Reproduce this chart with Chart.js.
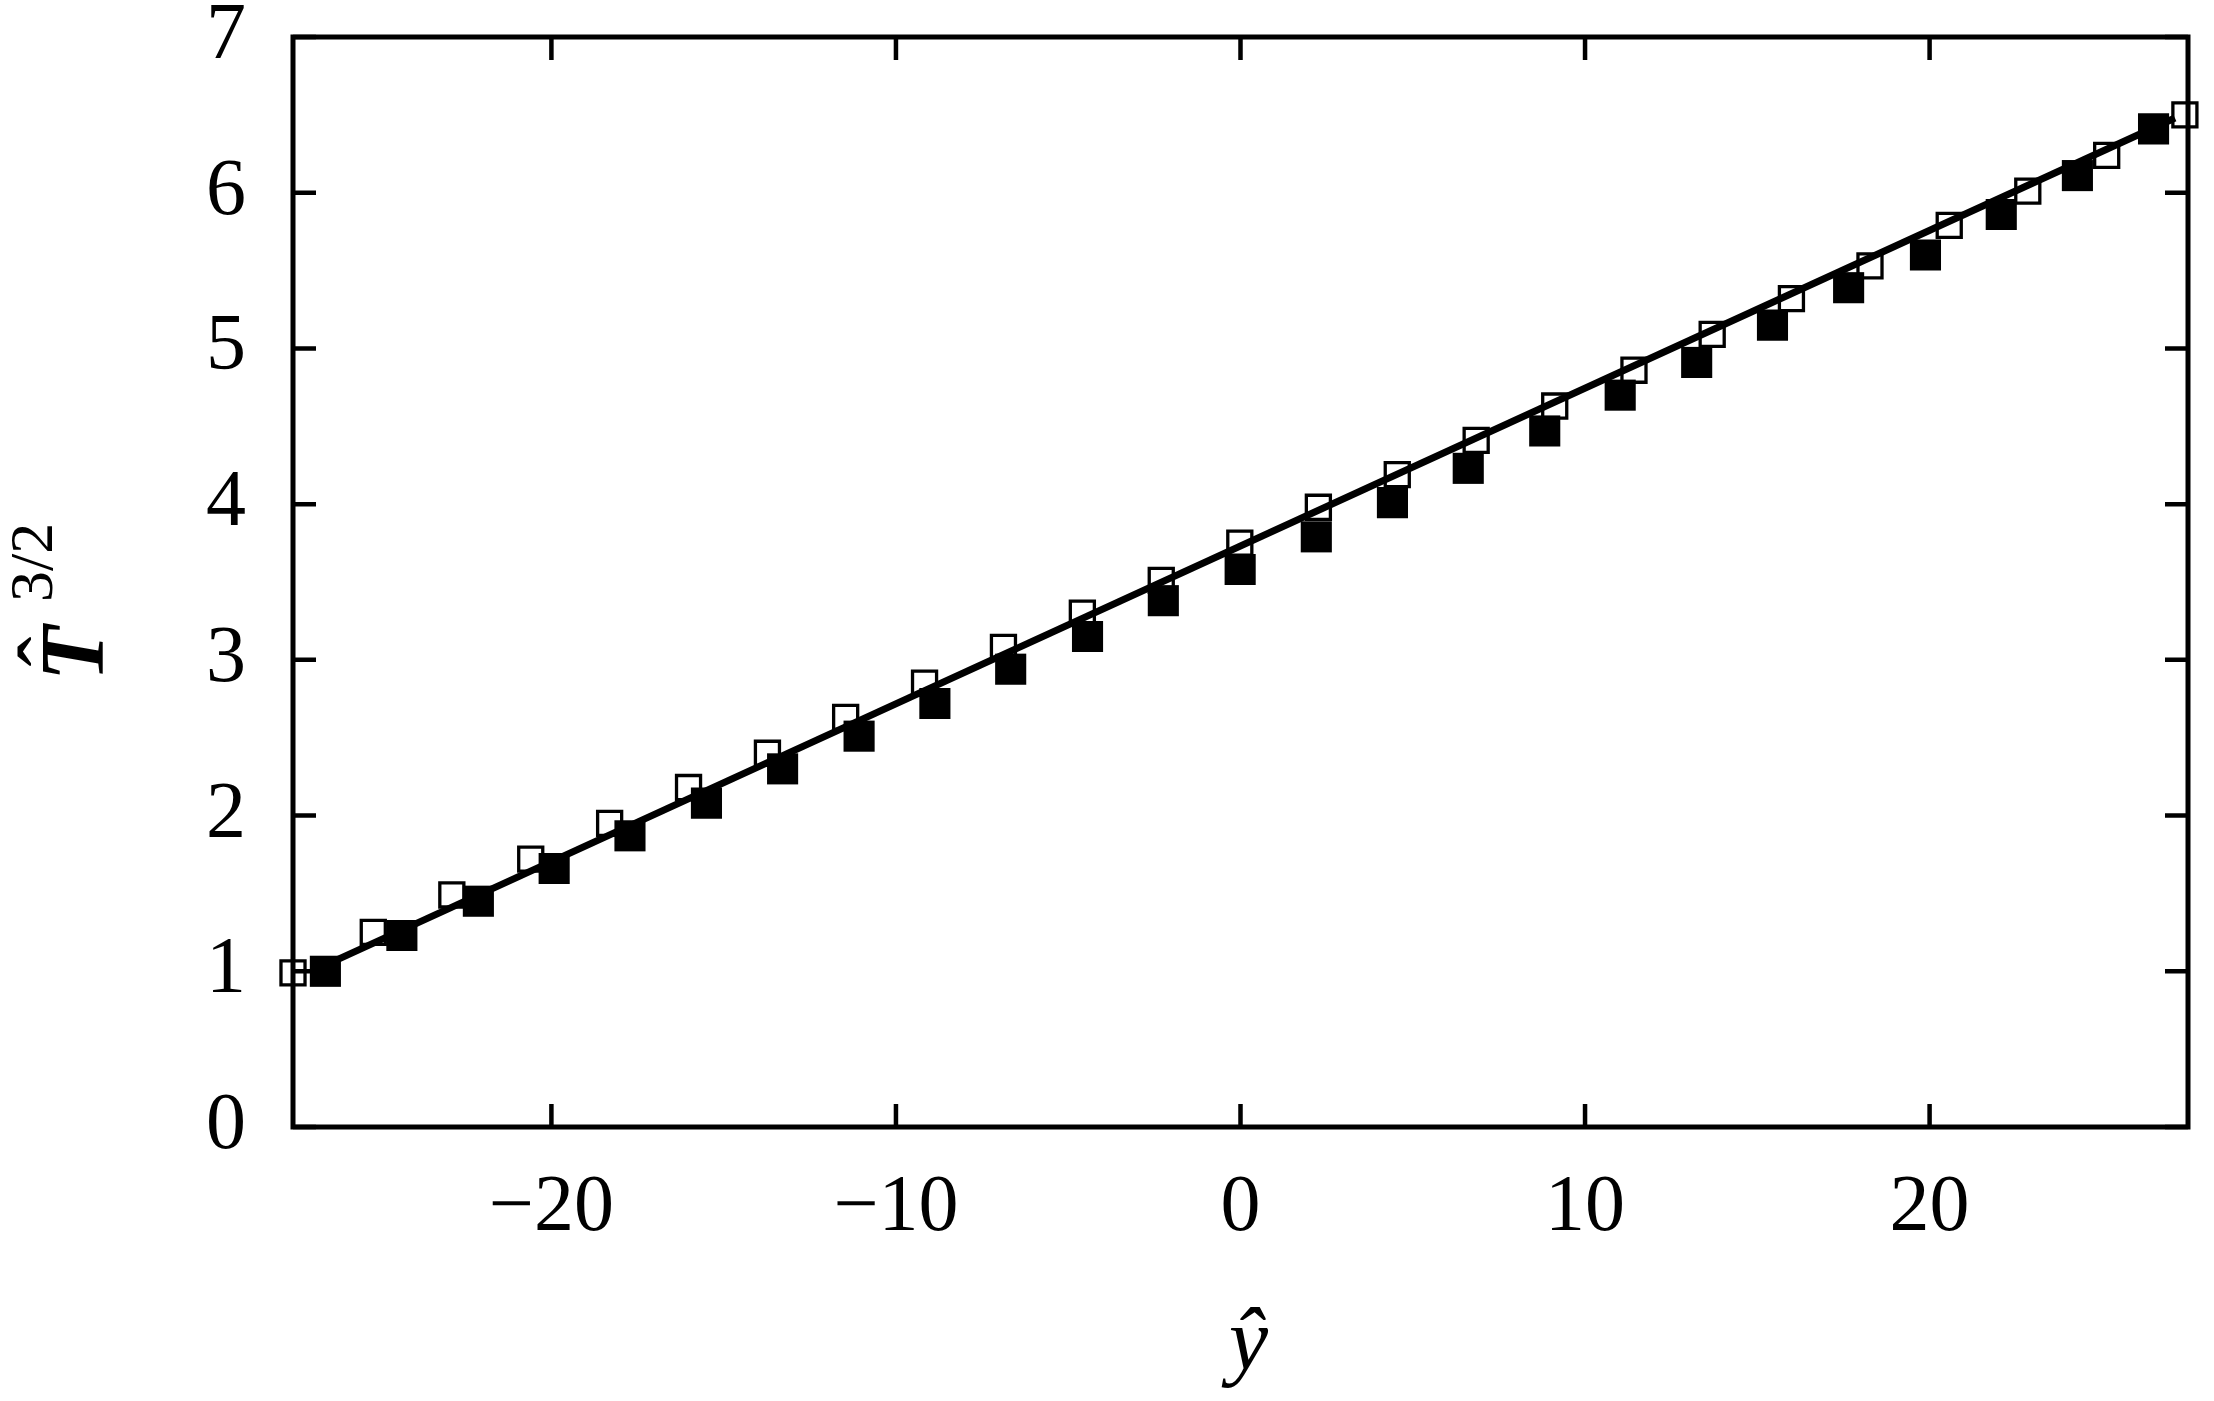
<!DOCTYPE html>
<html>
<head>
<meta charset="utf-8">
<script src="https://cdn.jsdelivr.net/npm/chart.js@4/dist/chart.umd.min.js"></script>
<style>
html, body { margin: 0; padding: 0; background: #fff; }
canvas { display: block; }
</style>
</head>
<body>
<canvas id="chart" width="2214" height="1401"></canvas>
<script>
// open squares
const openX = [-27.5, -25.17, -22.89, -20.6, -18.31, -16.02, -13.73, -11.46, -9.17, -6.88, -4.59, -2.3, -0.02,
  2.26, 4.55, 6.84, 9.12, 11.42, 13.69, 15.99, 18.27, 20.57, 22.85, 25.14, 27.41];
const openY = [0.99, 1.25, 1.49, 1.72, 1.95, 2.18, 2.40, 2.63, 2.85, 3.08, 3.30, 3.51, 3.75,
  3.98, 4.19, 4.41, 4.63, 4.86, 5.09, 5.32, 5.53, 5.79, 6.01, 6.24, 6.50];

// filled squares
const filledX = [-26.56, -24.34, -22.12, -19.92, -17.72, -15.5, -13.29, -11.07, -8.87, -6.67, -4.44, -2.24, -0.01,
  2.2, 4.41, 6.61, 8.83, 11.02, 13.24, 15.44, 17.65, 19.88, 22.08, 24.29, 26.5];
const filledY = [1.00, 1.23, 1.45, 1.66, 1.87, 2.08, 2.30, 2.51, 2.72, 2.94, 3.15, 3.38, 3.58,
  3.79, 4.01, 4.23, 4.47, 4.70, 4.91, 5.15, 5.39, 5.60, 5.86, 6.11, 6.41];

// solid line
const lineX = [-26.56, 27.12];
const lineY = [1.04, 6.48];

const xTicks = [-20, -10, 0, 10, 20];
const yTicks = [0, 1, 2, 3, 4, 5, 6, 7];

const SERIF = '"Liberation Serif", "Times New Roman", serif';

function pts(xs, ys) {
  return xs.map((x, i) => ({ x: x, y: ys[i] }));
}

// box with inward ticks on every side, and the two axis titles
const framePlugin = {
  id: 'frame',
  afterDatasetsDraw(chart) {
    const ctx = chart.ctx;
    const a = chart.chartArea;
    const sx = chart.scales.x, sy = chart.scales.y;
    const tl = 23;
    ctx.save();
    ctx.strokeStyle = '#000';
    ctx.lineWidth = 4.5;
    ctx.beginPath();
    xTicks.forEach(v => {
      const px = sx.getPixelForValue(v);
      ctx.moveTo(px, a.bottom); ctx.lineTo(px, a.bottom - tl);
      ctx.moveTo(px, a.top); ctx.lineTo(px, a.top + tl);
    });
    yTicks.forEach(v => {
      const py = sy.getPixelForValue(v);
      ctx.moveTo(a.left, py); ctx.lineTo(a.left + tl, py);
      ctx.moveTo(a.right, py); ctx.lineTo(a.right - tl, py);
    });
    ctx.stroke();
    ctx.lineWidth = 5;
    ctx.strokeRect(a.left, a.top, a.right - a.left, a.bottom - a.top);
    ctx.restore();
  },
  afterDraw(chart) {
    const ctx = chart.ctx;
    const a = chart.chartArea;
    ctx.save();
    ctx.fillStyle = '#000';

    // y title: T-hat with superscript 3/2, rotated
    ctx.translate(a.left - 190, a.bottom - 446);
    ctx.rotate(-Math.PI / 2);
    ctx.textBaseline = 'alphabetic';
    ctx.textAlign = 'left';
    ctx.font = 'italic bold 90px ' + SERIF;
    ctx.fillText('T', 0, 0);
    const tw = ctx.measureText('T').width;
    ctx.textAlign = 'center';
    ctx.font = '90px ' + SERIF;
    ctx.fillText('\u02C6', tw / 2 + 2, -22);
    ctx.textAlign = 'left';
    ctx.font = '62px ' + SERIF;
    ctx.fillText('3/2', 79, -51);
    ctx.restore();

    // x title
    ctx.save();
    ctx.fillStyle = '#000';
    ctx.font = 'italic 88px ' + SERIF;
    ctx.textAlign = 'center';
    ctx.textBaseline = 'alphabetic';
    ctx.fillText('\u0177', chart.scales.x.getPixelForValue(0) + 8, a.bottom + 242);
    ctx.restore();
  }
};

const tickFont = { family: SERIF, size: 80 };
const minus = v => String(v).replace('-', '\u2212');

new Chart(document.getElementById('chart').getContext('2d'), {
  type: 'scatter',
  data: {
    datasets: [
      {
        label: 'line',
        data: pts(lineX, lineY),
        showLine: true,
        borderColor: '#000',
        borderWidth: 7,
        pointRadius: 0,
        clip: false
      },
      {
        label: 'open',
        data: pts(openX, openY),
        pointStyle: 'rect',
        pointRadius: 17,
        borderColor: '#000',
        backgroundColor: 'rgba(0,0,0,0)',
        pointBorderColor: '#000',
        pointBackgroundColor: 'rgba(0,0,0,0)',
        pointBorderWidth: 3.3,
        clip: false
      },
      {
        label: 'filled',
        data: pts(filledX, filledY),
        pointStyle: 'rect',
        pointRadius: 22,
        borderColor: '#000',
        backgroundColor: '#000',
        pointBorderColor: '#000',
        pointBackgroundColor: '#000',
        pointBorderWidth: 0,
        clip: false
      }
    ]
  },
  options: {
    responsive: false,
    animation: false,
    events: [],
    layout: { padding: { top: 37, right: 26, bottom: 0, left: 0 }, autoPadding: false },
    plugins: { legend: { display: false }, tooltip: { enabled: false } },
    scales: {
      x: {
        type: 'linear',
        min: -27.5,
        max: 27.5,
        afterBuildTicks: s => { s.ticks = xTicks.map(v => ({ value: v })); },
        afterFit: s => { s.height = 274; s.paddingLeft = 0; s.paddingRight = 0; },
        grid: { display: false, drawTicks: false },
        border: { display: false },
        ticks: { padding: 34, color: '#000', font: tickFont, maxRotation: 0, callback: minus }
      },
      y: {
        type: 'linear',
        min: 0,
        max: 7,
        afterBuildTicks: s => { s.ticks = yTicks.map(v => ({ value: v })); },
        afterFit: s => { s.width = 293; s.paddingTop = 0; s.paddingBottom = 0; },
        grid: { display: false, drawTicks: false },
        border: { display: false },
        ticks: { padding: 47, color: '#000', font: tickFont, callback: minus }
      }
    }
  },
  plugins: [framePlugin]
});
</script>
</body>
</html>
